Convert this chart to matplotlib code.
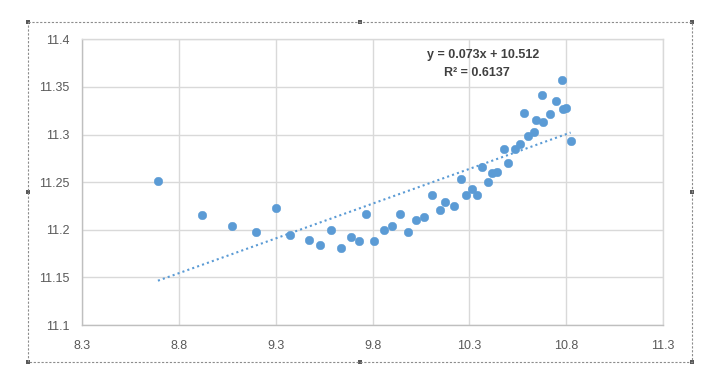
import matplotlib
matplotlib.use("Agg")
import matplotlib.pyplot as plt
from matplotlib.lines import Line2D
from matplotlib.patches import Rectangle
import numpy as np

plt.rcParams['font.family'] = ['Liberation Sans', 'DejaVu Sans']

# ---- data ----
x_vals = [8.692, 8.918, 9.077, 9.196, 9.300, 9.376, 9.473, 9.527, 9.586, 9.638,
          9.688, 9.732, 9.766, 9.808, 9.860, 9.902, 9.941, 9.985, 10.023, 10.065,
          10.108, 10.146, 10.172, 10.222, 10.256, 10.285, 10.316, 10.340, 10.365, 10.396,
          10.419, 10.443, 10.479, 10.502, 10.535, 10.563, 10.584, 10.604, 10.636, 10.644,
          10.674, 10.682, 10.714, 10.745, 10.778, 10.786, 10.800, 10.823]
y_vals = [11.251, 11.215, 11.2036, 11.1979, 11.2227, 11.1944, 11.1892, 11.1843, 11.1997, 11.1805,
          11.1923, 11.1882, 11.2161, 11.1882, 11.2000, 11.2036, 11.2168, 11.1979, 11.2102, 11.2130,
          11.2361, 11.2207, 11.2290, 11.2248, 11.2535, 11.2361, 11.2423, 11.2361, 11.2662, 11.2497,
          11.2591, 11.2605, 11.2853, 11.2696, 11.2849, 11.2898, 11.3231, 11.2982, 11.3027, 11.3150,
          11.3412, 11.3132, 11.3220, 11.3352, 11.3569, 11.3273, 11.3279, 11.2933]
trend_slope = 0.073
trend_intercept = 10.512
equation_text = "y = 0.073x + 10.512"
r2_text = "R\u00b2 = 0.6137"
x_ticks = [8.3, 8.8, 9.3, 9.8, 10.3, 10.8, 11.3]
x_tick_labels = ["8.3", "8.8", "9.3", "9.8", "10.3", "10.8", "11.3"]
y_ticks = [11.1, 11.15, 11.2, 11.25, 11.3, 11.35, 11.4]
y_tick_labels = ["11.1", "11.15", "11.2", "11.25", "11.3", "11.35", "11.4"]

W, H = 717, 385
fig = plt.figure(figsize=(W / 100, H / 100), dpi=100)
fig.patch.set_facecolor('white')

left, right, top, bottom = 82, 663, 39.3, 325
ax = fig.add_axes([left / W, 1 - bottom / H, (right - left) / W, (bottom - top) / H])

ax.set_xlim(8.3, 11.3)
ax.set_ylim(11.1, 11.4)
ax.set_xticks(x_ticks)
ax.set_xticklabels(x_tick_labels)
ax.set_yticks(y_ticks)
ax.set_yticklabels(y_tick_labels)
ax.tick_params(axis='both', length=0, labelsize=9, labelcolor='#595959')
ax.tick_params(axis='x', pad=11)
ax.tick_params(axis='y', pad=9)

ax.grid(True, color='#d9d9d9', linewidth=1.0)
ax.set_axisbelow(True)
for side in ['top', 'right']:
    ax.spines[side].set_color('#d9d9d9')
    ax.spines[side].set_linewidth(1.0)
for side in ['left', 'bottom']:
    ax.spines[side].set_color('#bfbfbf')
    ax.spines[side].set_linewidth(1.0)

blue = '#5b9bd5'
ax.plot(x_vals, y_vals, linestyle='none', marker='o', markersize=6.2,
        markerfacecolor=blue, markeredgecolor=blue, markeredgewidth=0.3, zorder=3)

xt = np.array([min(x_vals), max(x_vals)])
ax.plot(xt, trend_slope * xt + trend_intercept, color=blue, linewidth=1.5,
        linestyle=(0, (1, 1.5)), zorder=2)

fig.text(483 / W, 1 - 55 / H, equation_text, ha='center', va='center',
         fontsize=9, fontweight='bold', color='#404040')
fig.text(477 / W, 1 - 72.5 / H, r2_text, ha='center', va='center',
         fontsize=9, fontweight='bold', color='#404040')

# outer dashed selection frame with handles
fl, fr, ft, fb = 28, 692, 22, 362
frame_x = [fl, fr, fr, fl, fl]
frame_y = [ft, ft, fb, fb, ft]
fig.add_artist(Line2D([v / W for v in frame_x], [1 - v / H for v in frame_y],
                      color='#8c8c8c', linewidth=0.8, linestyle=(0, (2, 1.5))))
handles = [(fl, ft), (fr, ft), (fl, fb), (fr, fb), ((fl + fr) / 2, ft),
           ((fl + fr) / 2, fb), (fl, (ft + fb) / 2), (fr, (ft + fb) / 2)]
hs = 4
for hx, hy in handles:
    fig.add_artist(Rectangle(((hx - hs / 2) / W, 1 - (hy + hs / 2) / H), hs / W, hs / H,
                             facecolor='#595959', edgecolor='none'))

fig.savefig('out.png', dpi=100, facecolor='white')
